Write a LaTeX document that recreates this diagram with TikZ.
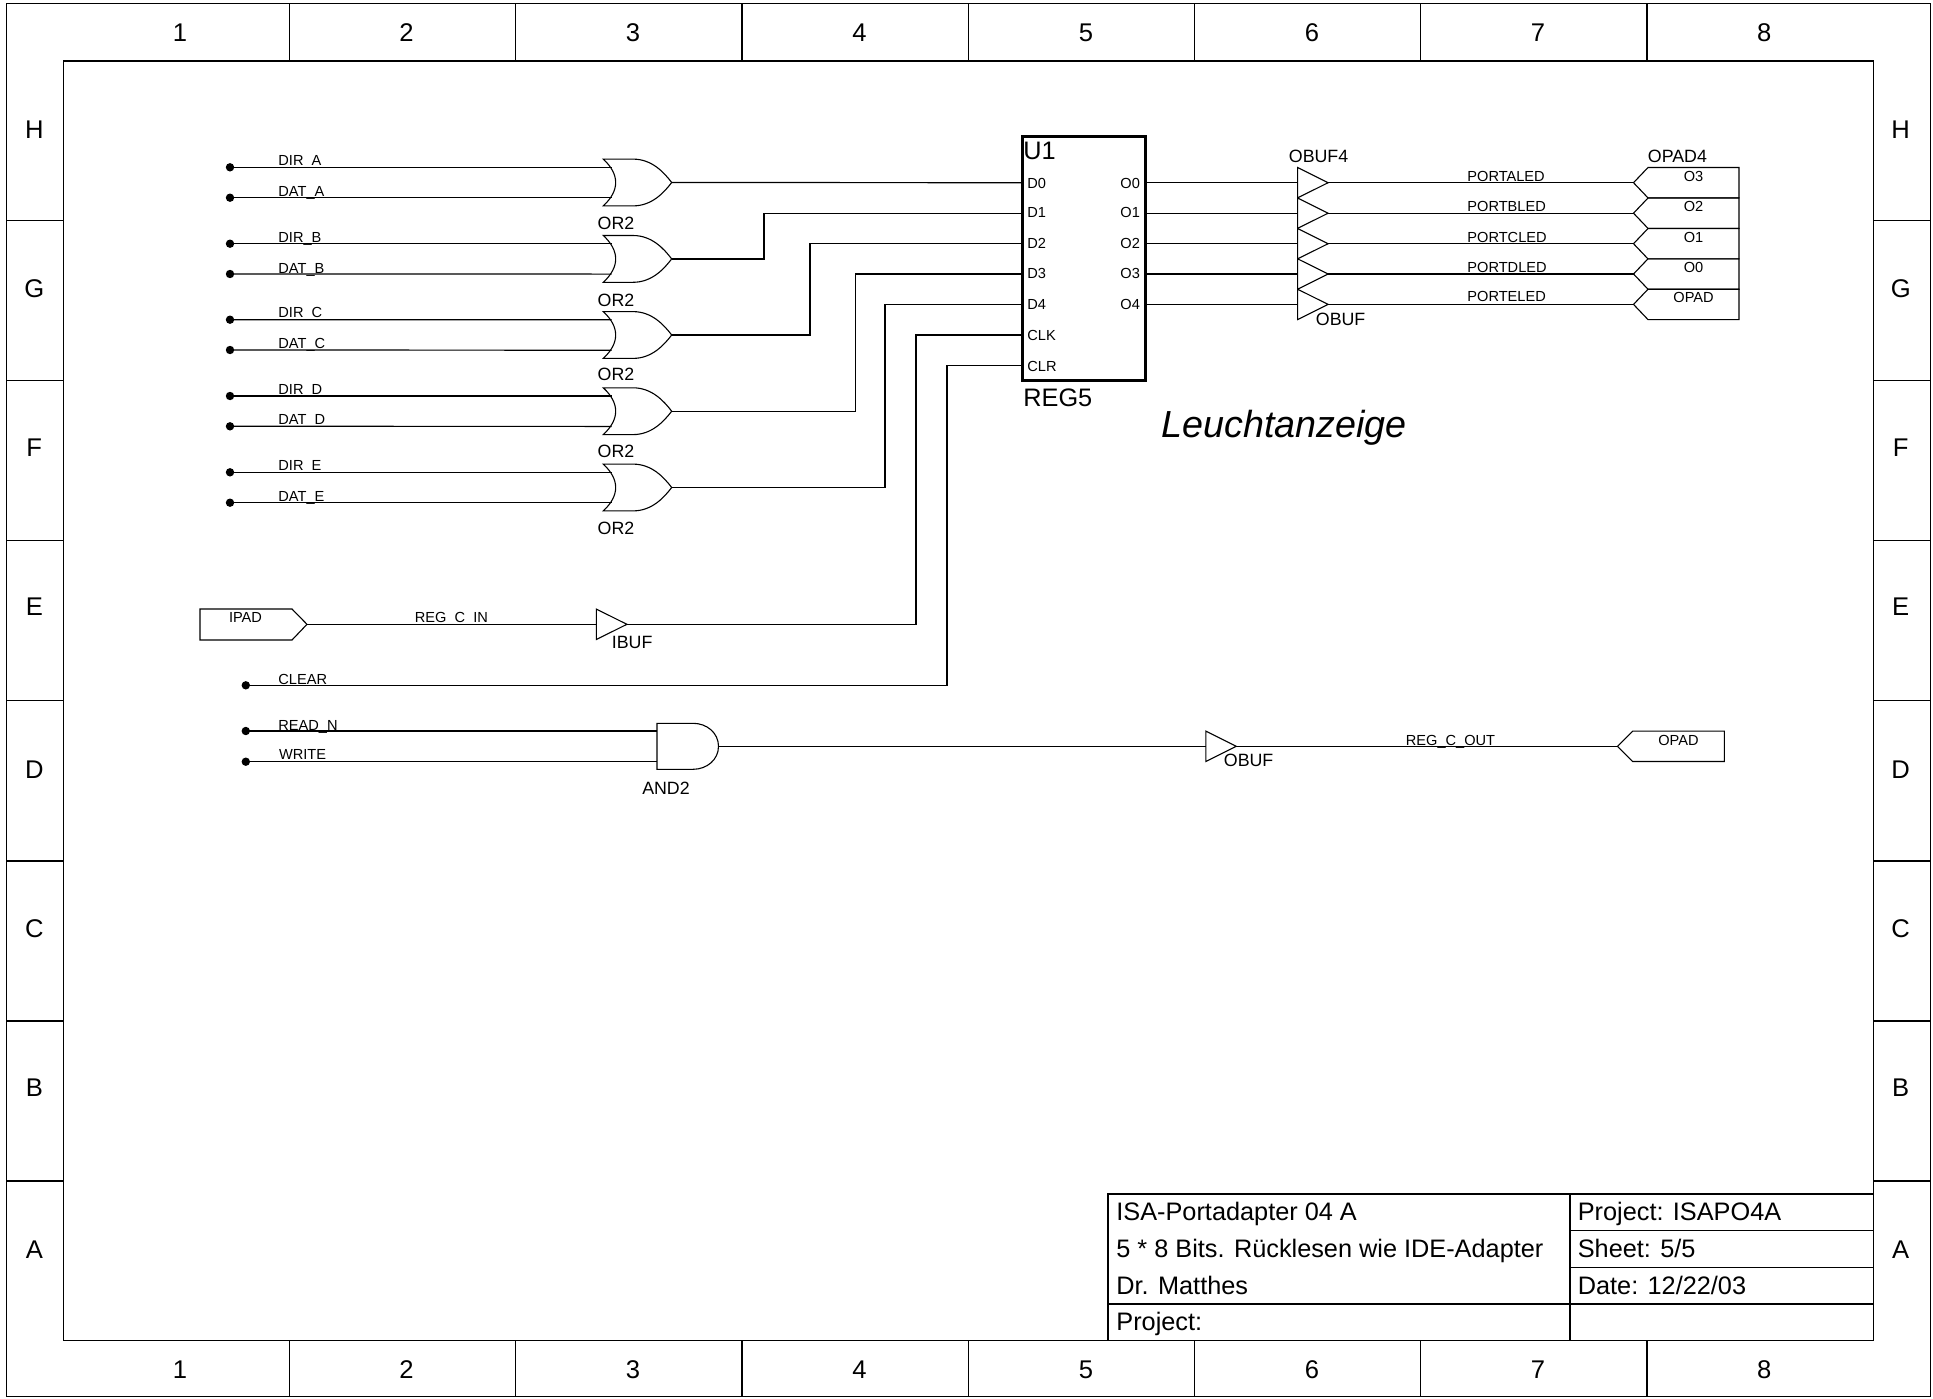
\documentclass[tikz,border=0pt]{standalone}
\usepackage{fontspec}
\setmainfont{Liberation Sans}
\tikzset{
  x=0.5pt,y=-0.5pt,
  wire/.style={line width=0.6pt,line cap=butt},
  sym/.style={line width=0.55pt,line join=miter},
  frameline/.style={line width=0.6pt},
  txtsmall/.style={inner sep=0pt,anchor=base west,font=\fontsize{7.3}{9}\selectfont},
  txtsmallc/.style={inner sep=0pt,anchor=base,font=\fontsize{7.3}{9}\selectfont},
  txtmid/.style={inner sep=0pt,anchor=base west,font=\fontsize{8.9}{10}\selectfont},
  txtmidc/.style={inner sep=0pt,anchor=base,font=\fontsize{8.9}{10}\selectfont},
  txtbig/.style={inner sep=0pt,anchor=base west,font=\fontsize{12.65}{14}\selectfont},
  framelabel/.style={inner sep=0pt,anchor=center,font=\fontsize{12.8}{14}\selectfont},
  dotnode/.style={circle,fill=black,inner sep=0pt,minimum size=4.2pt}
}
% gate: name, centre y
\newcommand{\orgate}[2]{%
  \draw[sym] (603.3,{#2-23.4}) -- (633,{#2-23.4})
    .. controls (652,{#2-23.4}) and (664,{#2-10}) .. (671.7,#2)
    .. controls (664,{#2+10}) and (652,{#2+23.4}) .. (633,{#2+23.4})
    -- (603.3,{#2+23.4})
    .. controls (619.8,{#2+8}) and (619.8,{#2-8}) .. cycle;
  \coordinate (#1a) at (611.7,{#2-15.2});
  \coordinate (#1b) at (611.7,{#2+15.2});
  \coordinate (#1o) at (671.7,#2);
}
% buffer: name, left x, tip y
\newcommand{\bufgate}[3]{%
  \draw[sym] (#2,{#3-15.2}) -- ({#2+30.5},#3) -- (#2,{#3+15.2}) -- cycle;
  \coordinate (#1i) at (#2,#3);
  \coordinate (#1o) at ({#2+30.5},#3);
}
% output pad: name, tip x, shoulder x, right x, y
\newcommand{\outpad}[5]{%
  \draw[sym] (#2,#5) -- (#3,{#5-15.2}) -- (#4,{#5-15.2}) -- (#4,{#5+15.2}) -- (#3,{#5+15.2}) -- cycle;
  \coordinate (#1) at (#2,#5);
}
\begin{document}
\begin{tikzpicture}
\useasboundingbox (0,0) rectangle (1933,1398);
% frame
\draw[frameline] (6.3,3.7) rectangle (1930.3,1396.7);
\draw[frameline] (63.3,61) rectangle (1873.7,1340.7);
\foreach \xx in {289.3,515.6,741.9,968.2,1194.4,1420.7,1647}{
  \draw[frameline] (\xx,3.7) -- (\xx,61);
  \draw[frameline] (\xx,1340.7) -- (\xx,1396.7);
}
\foreach \yy in {220.7,380.7,540.8,700.8,860.9,1020.9,1181}{
  \draw[frameline] (6.3,\yy) -- (63.3,\yy);
  \draw[frameline] (1873.7,\yy) -- (1930.3,\yy);
}
\foreach \n/\xx in {1/180,2/406.5,3/633,4/859.5,5/1086,6/1312,7/1538,8/1764.3}{
  \node[framelabel] (top\n) at (\xx,32.7) {\n};
  \node[framelabel] (bot\n) at (\xx,1369.7) {\n};
}
\foreach \n/\yy in {H/129.3,G/288.5,F/447.5,E/606.5,D/769.3,C/928.3,B/1087.3,A/1249.3}{
  \node[framelabel] (left\n) at (34.3,\yy) {\n};
  \node[framelabel] (right\n) at (1900.7,\yy) {\n};
}
% title block
\draw[frameline] (1108,1340.7) -- (1108,1194) -- (1872.7,1194);
\draw[frameline] (1570,1194) -- (1570,1340.7);
\draw[frameline] (1570,1230.7) -- (1872.7,1230.7);
\draw[frameline] (1570,1267.3) -- (1872.7,1267.3);
\draw[frameline] (1108,1304) -- (1872.7,1304);
\node[txtbig] (t1) at (1116,1220.7) {ISA-Portadapter 04 A};
\node[txtbig] (t2) at (1116,1257.7) {5 * 8 Bits. Rücklesen wie IDE-Adapter};
\node[txtbig] (t3) at (1116,1294) {Dr. Matthes};
\node[txtbig] (t4) at (1116,1330.5) {Project:};
\node[txtbig] (t5) at (1577.4,1220.7) {Project: ISAPO4A};
\node[txtbig] (t6) at (1577.4,1257.7) {Sheet: 5/5};
\node[txtbig] (t7) at (1577.4,1294) {Date: 12/22/03};
% input dots
\node[dotnode] (dirA) at (230,167.3) {};
\node[dotnode] (datA) at (230,197.7) {};
\node[dotnode] (dirB) at (230,243.7) {};
\node[dotnode] (datB) at (230,274) {};
\node[dotnode] (dirC) at (230,319.7) {};
\node[dotnode] (datC) at (230,350) {};
\node[dotnode] (dirD) at (230,396) {};
\node[dotnode] (datD) at (230,426.3) {};
\node[dotnode] (dirE) at (230,472.3) {};
\node[dotnode] (datE) at (230,502.7) {};
\node[dotnode] (clr) at (245.8,685.3) {};
\node[dotnode] (rdn) at (245.8,731) {};
\node[dotnode] (wrt) at (245.8,761.7) {};
% gates
\orgate{gA}{182.5}
\orgate{gB}{258.9}
\orgate{gC}{335}
\orgate{gD}{411.2}
\orgate{gE}{487.5}
\draw[sym] (657,723.3) -- (693,723.3) .. controls (707,723.3) and (718.5,733) .. (718.5,746.3)
  .. controls (718.5,759.6) and (707,769.3) .. (693,769.3) -- (657,769.3) -- cycle;
\coordinate (andA) at (657,731);
\coordinate (andB) at (657,761.7);
\coordinate (andO) at (718.5,746.3);
% register
\draw[line width=1.7pt] (1022.7,136.7) rectangle (1145.3,380.7);
\coordinate (d0) at (1022.7,182.7);
\coordinate (d1) at (1022.7,213.2);
\coordinate (d2) at (1022.7,243.7);
\coordinate (d3) at (1022.7,274);
\coordinate (d4) at (1022.7,304.4);
\coordinate (ck) at (1022.7,335);
\coordinate (cr) at (1022.7,365.3);
\coordinate (q0) at (1145.3,182.7);
\coordinate (q1) at (1145.3,213.2);
\coordinate (q2) at (1145.3,243.7);
\coordinate (q3) at (1145.3,274);
\coordinate (q4) at (1145.3,304.4);
% buffers & pads
\bufgate{b0}{1297.6}{182.7}
\bufgate{b1}{1297.6}{213.2}
\bufgate{b2}{1297.6}{243.7}
\bufgate{b3}{1297.6}{274}
\bufgate{b4}{1297.6}{304.4}
\outpad{p0}{1633.5}{1648}{1739}{182.7}
\outpad{p1}{1633.5}{1648}{1739}{213.2}
\outpad{p2}{1633.5}{1648}{1739}{243.7}
\outpad{p3}{1633.5}{1648}{1739}{274}
\outpad{p4}{1633.5}{1648}{1739}{304.4}
\draw[sym] (200,609) -- (292,609) -- (307,624.3) -- (292,640) -- (200,640) -- cycle;
\coordinate (ipad) at (307,624.3);
\bufgate{ib}{596.4}{624.3}
\bufgate{ob}{1205.8}{746.3}
\outpad{pr}{1617.5}{1632.7}{1724.4}{746.3}
% wires
\draw[wire] (dirA.center) -- (gAa);
\draw[wire] (datA.center) -- (gAb);
\draw[wire] (dirB.center) -- (gBa);
\draw[wire] (datB.center) -- (gBb);
\draw[wire] (dirC.center) -- (gCa);
\draw[wire] (datC.center) -- (gCb);
\draw[wire] (dirD.center) -- (gDa);
\draw[wire] (datD.center) -- (gDb);
\draw[wire] (dirE.center) -- (gEa);
\draw[wire] (datE.center) -- (gEb);
\draw[wire] (gAo) -- (d0);
\draw[wire] (gBo) -| (764,213.2) -- (d1);
\draw[wire] (gCo) -| (810,243.7) -- (d2);
\draw[wire] (gDo) -| (855.6,274) -- (d3);
\draw[wire] (gEo) -| (885,304.4) -- (d4);
\draw[wire] (ipad) -- (ibi);
\draw[wire] (ibo) -| (916,335) -- (ck);
\draw[wire] (clr.center) -| (947,365.3) -- (cr);
\draw[wire] (rdn.center) -- (andA);
\draw[wire] (wrt.center) -- (andB);
\draw[wire] (andO) -- (obi);
\draw[wire] (obo) -- (pr);
\draw[wire] (q0) -- (b0i); \draw[wire] (b0o) -- (p0);
\draw[wire] (q1) -- (b1i); \draw[wire] (b1o) -- (p1);
\draw[wire] (q2) -- (b2i); \draw[wire] (b2o) -- (p2);
\draw[wire] (q3) -- (b3i); \draw[wire] (b3o) -- (p3);
\draw[wire] (q4) -- (b4i); \draw[wire] (b4o) -- (p4);
% net labels
\node[txtsmall] (lDirA) at (278,165) {DIR\_A};
\node[txtsmall] (lDatA) at (278,196) {DAT\_A};
\node[txtsmall] (lDirB) at (278,242) {DIR\_B};
\node[txtsmall] (lDatB) at (278,273) {DAT\_B};
\node[txtsmall] (lDirC) at (278,317) {DIR\_C};
\node[txtsmall] (lDatC) at (278,348) {DAT\_C};
\node[txtsmall] (lDirD) at (278,394) {DIR\_D};
\node[txtsmall] (lDatD) at (278,424) {DAT\_D};
\node[txtsmall] (lDirE) at (278,470) {DIR\_E};
\node[txtsmall] (lDatE) at (278,501) {DAT\_E};
\node[txtsmall] (lClr) at (278,684) {CLEAR};
\node[txtsmall] (lRd) at (278,730) {READ\_N};
\node[txtsmall] (lWr) at (278.7,759) {WRITE};
\node[txtsmall] (lIn) at (414.5,622) {REG\_C\_IN};
\node[txtsmall] (lOut) at (1405.5,745) {REG\_C\_OUT};
\node[txtsmall] (lPa) at (1467,181) {PORTALED};
\node[txtsmall] (lPb) at (1467,211) {PORTBLED};
\node[txtsmall] (lPc) at (1467,242) {PORTCLED};
\node[txtsmall] (lPd) at (1467,272.7) {PORTDLED};
\node[txtsmall] (lPe) at (1467,301) {PORTELED};
\node[txtsmallc] (lIpad) at (245.5,622) {IPAD};
\node[txtsmallc] (lOpad) at (1678.5,745) {OPAD};
\node[txtsmallc] (lO3) at (1693.6,181) {O3};
\node[txtsmallc] (lO2) at (1693.6,211) {O2};
\node[txtsmallc] (lO1) at (1693.6,242) {O1};
\node[txtsmallc] (lO0) at (1693.6,272.7) {O0};
\node[txtsmallc] (lOp) at (1693.6,302.7) {OPAD};
% pin labels
\node[txtsmall] (pD0) at (1027,188) {D0};
\node[txtsmall] (pD1) at (1027,217.3) {D1};
\node[txtsmall] (pD2) at (1027,248) {D2};
\node[txtsmall] (pD3) at (1027,278.3) {D3};
\node[txtsmall] (pD4) at (1027,309) {D4};
\node[txtsmall] (pCk) at (1027,340) {CLK};
\node[txtsmall] (pCr) at (1027,371) {CLR};
\node[txtsmall] (pO0) at (1120,188) {O0};
\node[txtsmall] (pO1) at (1120,217.3) {O1};
\node[txtsmall] (pO2) at (1120,248) {O2};
\node[txtsmall] (pO3) at (1120,278.3) {O3};
\node[txtsmall] (pO4) at (1120,309) {O4};
% component names
\node[txtmidc] (nA) at (616,229) {OR2};
\node[txtmidc] (nB) at (616,306) {OR2};
\node[txtmidc] (nC) at (616,380) {OR2};
\node[txtmidc] (nD) at (616,457) {OR2};
\node[txtmidc] (nE) at (616,534) {OR2};
\node[txtmidc] (nAnd) at (666,794) {AND2};
\node[txtmid] (nIb) at (611.5,648) {IBUF};
\node[txtmid] (nOb) at (1223.5,766.7) {OBUF};
\node[txtmid] (nOb4) at (1288.5,162.7) {OBUF4};
\node[txtmid] (nOb1) at (1315.5,325) {OBUF};
\node[txtmid] (nOp4) at (1647.5,162.7) {OPAD4};
\node[txtbig] (nU) at (1023,159.3) {U1};
\node[txtbig] (nReg) at (1023,406) {REG5};
\node[inner sep=0pt,anchor=base west,font=\fontsize{18.85}{20}\selectfont\itshape] (title) at (1161,437) {Leuchtanzeige};
\end{tikzpicture}
\end{document}
